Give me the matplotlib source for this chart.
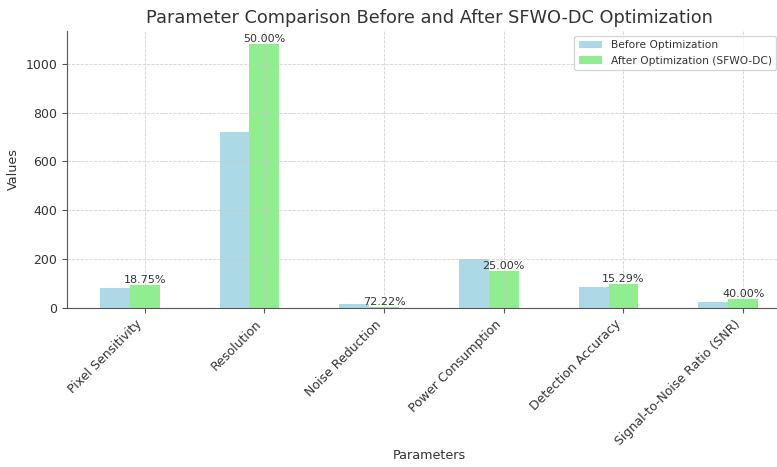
import numpy as np
import matplotlib
matplotlib.use("Agg")
import matplotlib.pyplot as plt

parameters = ["Pixel Sensitivity", "Resolution", "Noise Reduction",
              "Power Consumption", "Detection Accuracy", "Signal-to-Noise Ratio (SNR)"]
before_values = [80, 720, 18, 200, 85, 25]
after_values = [95, 1080, 5, 150, 98, 35]

text_color = "#333333"
plt.rcParams["text.color"] = text_color
plt.rcParams["axes.labelcolor"] = text_color
plt.rcParams["xtick.color"] = "#555555"
plt.rcParams["ytick.color"] = "#555555"
plt.rcParams["xtick.labelcolor"] = text_color
plt.rcParams["ytick.labelcolor"] = text_color

fig = plt.figure(figsize=(7.77, 4.67), dpi=100)
ax = fig.add_axes([67 / 777, (467 - 308) / 467, (791 - 67) / 777, (308 - 31) / 467])

x = np.arange(len(parameters))
width = 0.25
ax.bar(x - width, before_values, width, color="lightblue", label="Before Optimization")
ax.bar(x, after_values, width, color="lightgreen", label="After Optimization (SFWO-DC)")

for xi, b, a in zip(x, before_values, after_values):
    pct = abs(a - b) / b * 100
    ax.text(xi, a, f"{pct:.2f}%", ha="center", va="bottom", fontsize=8, color=text_color)

ax.set_xticks(x)
ax.set_xticklabels(parameters, rotation=45, ha="right", fontsize=9)
ax.tick_params(axis="y", labelsize=9)
ax.set_xlabel("Parameters", fontsize=9.2, labelpad=1)
ax.set_ylabel("Values", fontsize=9.2)
ax.set_title("Parameter Comparison Before and After SFWO-DC Optimization", fontsize=12.75)
ax.grid(True, linestyle="--", linewidth=0.6, color="#c8c8c8", alpha=0.8)
for side in ["top", "right"]:
    ax.spines[side].set_visible(False)
for side in ["left", "bottom"]:
    ax.spines[side].set_color("#555555")
ax.legend(loc="upper right", fontsize=7.7, handlelength=2.2,
          bbox_to_anchor=(776 / 777, 1 - 36 / 467), bbox_transform=fig.transFigure,
          borderaxespad=0)

fig.savefig("out.png", dpi=100)
